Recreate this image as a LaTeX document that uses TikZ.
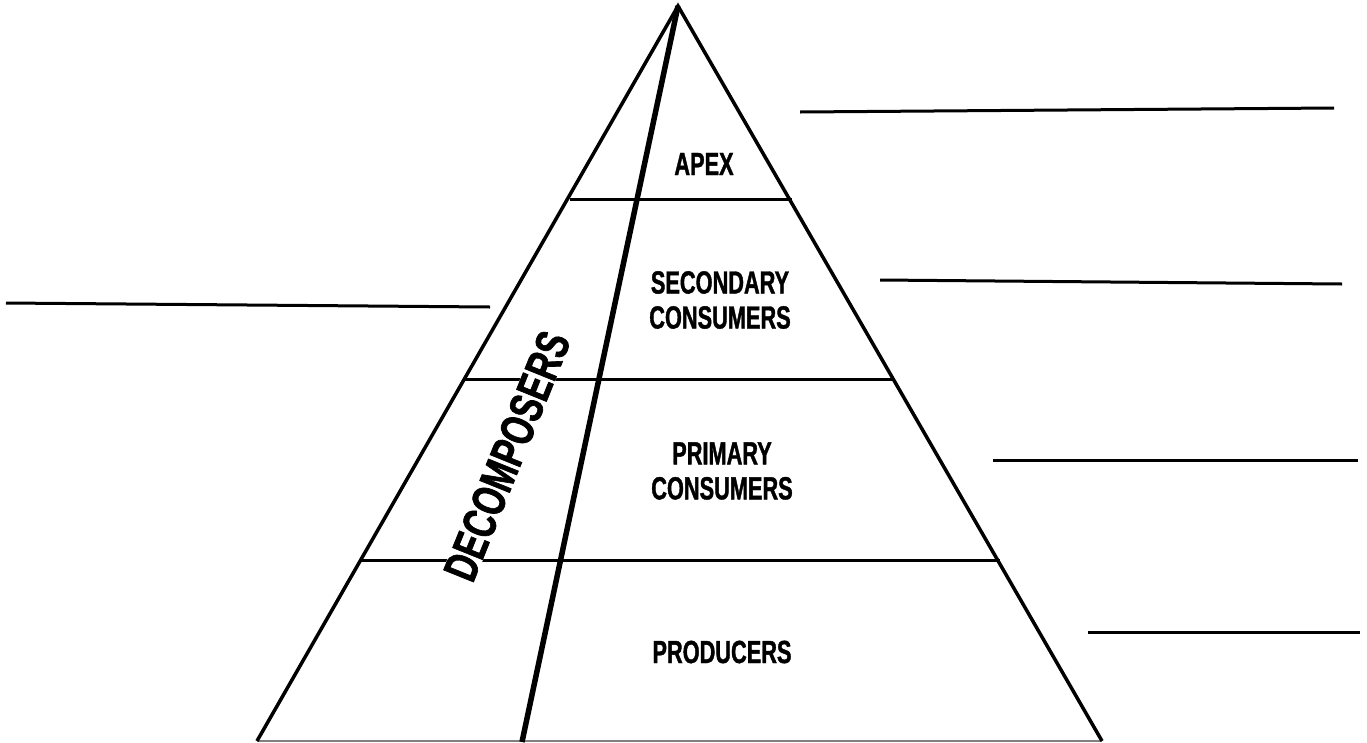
\documentclass[tikz,border=0pt]{standalone}
\usepackage{fontspec}
\newfontfamily\condfont[FakeStretch=0.68,FakeBold=1.2]{Liberation Sans}
\newfontfamily\deccondfont[FakeStretch=0.71,FakeBold=1.4]{Liberation Sans}
\begin{document}
\begin{tikzpicture}[x=1pt,y=-1pt,
  edge/.style={line width=3.5pt,line join=miter},
  tier/.style={line width=3pt},
  blank/.style={line width=3pt},
  inner/.style={line width=5.5pt},
  lbl/.style={font=\condfont\bfseries\fontsize{32}{35}\selectfont,align=center,inner sep=0pt},
  declbl/.style={font=\deccondfont\bfseries\fontsize{47}{47}\selectfont,fill=white,inner xsep=6pt,inner ysep=0pt}]
\useasboundingbox (0,0) rectangle (1367,742);
% pyramid corners
\coordinate (apex) at (678,6);
\coordinate (bl) at (257,741);
\coordinate (br) at (1102,741);
\coordinate (ib) at (522,742);
% tier lines
\coordinate (t1l) at (570,199); \coordinate (t1r) at (792,199);
\coordinate (t2l) at (464,379); \coordinate (t2r) at (893,379);
\coordinate (t3l) at (359,560); \coordinate (t3r) at (1000,560);
\draw[tier] (t1l) -- (t1r);
\draw[tier] (t2l) -- (t2r);
\draw[tier] (t3l) -- (t3r);
% base
\draw[line width=1.8pt,gray] (bl) -- (br);
% sides
\draw[edge] (bl) -- (apex) -- (br);
% labels
\node[lbl] (apexlbl) at (704,164) {APEX};
\node[lbl] (seclbl) at (720,300) {SECONDARY\\CONSUMERS};
\node[lbl] (primlbl) at (722,471) {PRIMARY\\CONSUMERS};
\node[lbl] (prodlbl) at (722,652) {PRODUCERS};
\node[declbl,rotate=68] (declbl) at (507,456) {DECOMPOSERS};
% decomposer divider
\draw[inner] (apex) -- (ib);
% blank answer lines
\coordinate (a1) at (800,112); \coordinate (a2) at (1334,108);
\coordinate (b1) at (880,280); \coordinate (b2) at (1342,284);
\coordinate (c1) at (993,460); \coordinate (c2) at (1358,460);
\coordinate (d1) at (1088,632); \coordinate (d2) at (1360,632);
\coordinate (e1) at (6,303); \coordinate (e2) at (490,307);
\draw[blank] (a1) -- (a2);
\draw[blank] (b1) -- (b2);
\draw[blank] (c1) -- (c2);
\draw[blank] (d1) -- (d2);
\draw[blank] (e1) -- (e2);
\end{tikzpicture}
\end{document}
